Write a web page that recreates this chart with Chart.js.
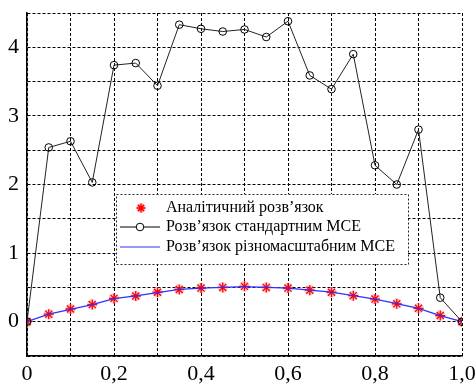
<!DOCTYPE html>
<html>
<head>
<meta charset="utf-8">
<script src="https://cdn.jsdelivr.net/npm/chart.js@4/dist/chart.umd.min.js"></script>
<style>
  html, body { margin: 0; padding: 0; background: #fff; }
  canvas { display: block; }
</style>
</head>
<body>
<canvas id="myChart" width="476" height="389"></canvas>
<script>
const xs = [0, 0.05, 0.1, 0.15, 0.2, 0.25, 0.3, 0.35, 0.4, 0.45, 0.5,
            0.55, 0.6, 0.65, 0.7, 0.75, 0.8, 0.85, 0.9, 0.95, 1.0];

const analytic = [0, 0.11, 0.185, 0.25, 0.34, 0.375, 0.43, 0.47, 0.49, 0.50, 0.515,
                  0.50, 0.49, 0.46, 0.43, 0.38, 0.33, 0.26, 0.195, 0.09, 0];

const standardFem = [0, 2.54, 2.63, 2.03, 3.74, 3.77, 3.44, 4.33, 4.27, 4.23, 4.26,
                     4.15, 4.38, 3.59, 3.39, 3.90, 2.28, 2.00, 2.80, 0.35, 0];

const multiscaleFem = [0, 0.11, 0.18, 0.25, 0.335, 0.375, 0.425, 0.47, 0.49, 0.50, 0.51,
                       0.50, 0.49, 0.46, 0.43, 0.38, 0.33, 0.265, 0.195, 0.09, 0];

const legendLabels = [
    'Аналітичний розв\u2019язок',
    'Розв\u2019язок стандартним МСЕ',
    'Розв\u2019язок різномасштабним МСЕ'
];

const SERIF = '"Liberation Serif", "Times New Roman", serif';

const toPoints = ys => ys.map((y, i) => ({ x: xs[i], y: y }));

// legend box drawn inside the plot area
const boxLegend = {
    id: 'boxLegend',
    afterDraw(chart) {
        const ctx = chart.ctx;
        const left = 116, top = 194, w = 292, h = 70;
        ctx.save();
        ctx.fillStyle = '#fff';
        ctx.fillRect(left, top, w, h);
        ctx.strokeStyle = '#222';
        ctx.lineWidth = 1;
        ctx.setLineDash([2, 2]);
        ctx.strokeRect(left + 0.5, top + 0.5, w, h);
        ctx.setLineDash([]);

        const rows = [208, 227, 247];
        // star
        const sx = 141, sy = rows[0], r = 4.5;
        ctx.strokeStyle = 'rgba(255,80,80,0.35)';
        ctx.lineWidth = 4;
        const star = () => {
            ctx.beginPath();
            ctx.moveTo(sx - r, sy); ctx.lineTo(sx + r, sy);
            ctx.moveTo(sx, sy - r); ctx.lineTo(sx, sy + r);
            ctx.moveTo(sx - r * 0.7, sy - r * 0.7); ctx.lineTo(sx + r * 0.7, sy + r * 0.7);
            ctx.moveTo(sx - r * 0.7, sy + r * 0.7); ctx.lineTo(sx + r * 0.7, sy - r * 0.7);
            ctx.stroke();
        };
        star();
        ctx.strokeStyle = '#ff0000';
        ctx.lineWidth = 1.5;
        star();
        // black line with circle
        ctx.strokeStyle = '#000';
        ctx.lineWidth = 1;
        ctx.beginPath();
        ctx.moveTo(120, rows[1]); ctx.lineTo(160, rows[1]);
        ctx.stroke();
        ctx.beginPath();
        ctx.arc(140, rows[1], 3.8, 0, Math.PI * 2);
        ctx.fillStyle = '#fff';
        ctx.fill();
        ctx.stroke();
        // blue line
        ctx.strokeStyle = '#3030ff';
        ctx.lineWidth = 1.2;
        ctx.beginPath();
        ctx.moveTo(120, rows[2]); ctx.lineTo(160, rows[2]);
        ctx.stroke();

        ctx.fillStyle = '#000';
        ctx.font = '16px ' + SERIF;
        ctx.textBaseline = 'middle';
        ctx.textAlign = 'left';
        legendLabels.forEach((t, i) => ctx.fillText(t, 166, rows[i]));
        ctx.restore();
    }
};

new Chart(document.getElementById('myChart').getContext('2d'), {
    type: 'scatter',
    data: {
        datasets: [
            {
                label: legendLabels[0] + ' (halo)',
                data: toPoints(analytic),
                showLine: false,
                pointStyle: 'star',
                pointRadius: 5,
                borderColor: 'rgba(255,80,80,0.3)',
                backgroundColor: 'rgba(255,80,80,0.3)',
                pointBorderWidth: 4,
                order: 4
            },
            {
                label: legendLabels[0],
                data: toPoints(analytic),
                showLine: false,
                pointStyle: 'star',
                pointRadius: 5,
                borderColor: '#ff0000',
                backgroundColor: '#ff0000',
                pointBorderWidth: 1.3,
                order: 3
            },
            {
                label: legendLabels[2],
                data: toPoints(multiscaleFem),
                showLine: true,
                borderColor: '#3030ff',
                borderWidth: 1.3,
                pointRadius: 0,
                order: 2
            },
            {
                label: legendLabels[1],
                data: toPoints(standardFem),
                showLine: true,
                borderColor: '#222',
                borderWidth: 1,
                pointStyle: 'circle',
                pointRadius: 3.8,
                pointBorderWidth: 1,
                pointBackgroundColor: 'rgba(0,0,0,0)',
                pointBorderColor: '#000',
                order: 1
            }
        ]
    },
    options: {
        responsive: false,
        animation: false,
        layout: { padding: { top: 13, right: 14, left: 0, bottom: 0 } },
        plugins: {
            legend: { display: false },
            tooltip: { enabled: false }
        },
        scales: {
            x: {
                type: 'linear',
                min: 0,
                max: 1,
                ticks: {
                    stepSize: 0.1,
                    autoSkip: false,
                    maxRotation: 0,
                    padding: 5,
                    color: '#000',
                    font: { family: SERIF, size: 22 },
                    callback: v => {
                        const k = Math.round(v * 10);
                        if (k % 2 !== 0) return '';
                        if (k === 0) return '0';
                        return (k / 10).toFixed(1).replace('.', ',');
                    }
                },
                grid: { color: '#000', lineWidth: 1, drawTicks: false },
                border: { color: '#000', width: 1.5, dash: [3, 2] },
                afterFit: s => { s.height = 33; s.paddingRight = 0; s.paddingLeft = 0; }
            },
            y: {
                type: 'linear',
                min: -0.5,
                max: 4.5,
                ticks: {
                    stepSize: 0.5,
                    autoSkip: false,
                    padding: 8,
                    color: '#000',
                    font: { family: SERIF, size: 22 },
                    callback: v => (Math.abs(v - Math.round(v)) < 1e-6 ? String(Math.round(v)) : '')
                },
                grid: { color: '#000', lineWidth: 1, drawTicks: false },
                border: { color: '#000', width: 1.5, dash: [3, 2] },
                afterFit: s => { s.width = 27; s.paddingTop = 0; s.paddingBottom = 0; }
            }
        }
    },
    plugins: [boxLegend]
});
</script>
</body>
</html>
